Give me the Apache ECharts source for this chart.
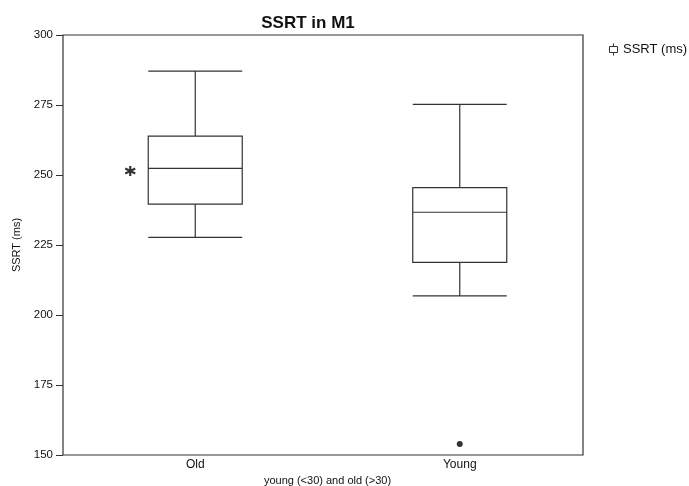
<!DOCTYPE html>
<html>
<head>
<meta charset="utf-8">
<script src="https://cdn.jsdelivr.net/npm/echarts@6/dist/echarts.min.js"></script>
<style>
  html, body { margin: 0; padding: 0; background: #fff; }
  #container { width: 689px; height: 486px; }
</style>
</head>
<body>
<div id="container"></div>
<script>
// values
var categories = ['Old', 'Young'];
var lowValues = [227.7, 206.8];
var q1Values = [239.6, 218.8];
var medianValues = [252.4, 236.7];
var q3Values = [263.9, 245.5];
var highValues = [287.1, 275.2];
var outliers = [['Young', 153.9]];
var extremes = [['Old', 251.4]];
var yTicks = { min: 150, max: 300, step: 25 };

var boxData = categories.map(function (c, i) {
    return [lowValues[i], q1Values[i], medianValues[i], q3Values[i], highValues[i]];
});

var font = 'Liberation Sans, Arial, Helvetica, sans-serif';
var asterisk = 'path://M0,-10 L0,10 M-8.66,-5 L8.66,5 M-8.66,5 L8.66,-5';

var dom = document.getElementById('container');
var chart = echarts.init(dom, null, { renderer: 'canvas' });

chart.setOption({
    animation: false,
    backgroundColor: '#fff',
    title: {
        text: 'SSRT in M1',
        left: 303, top: 10, textAlign: 'center',
        textStyle: { fontFamily: font, fontSize: 17, fontWeight: 'bold', color: '#111' }
    },
    legend: {
        data: ['SSRT (ms)'],
        left: 604, top: 38,
        itemWidth: 9, itemHeight: 12,
        icon: 'path://M5,0 L5,3 M1,3 L9,3 L9,9 L1,9 Z M5,9 L5,12',
        itemStyle: { color: '#fff', borderColor: '#333', borderWidth: 1 },
        textStyle: { fontFamily: font, fontSize: 13, color: '#111' }
    },
    grid: [
        // frame
        { left: 63, right: 106, top: 35, bottom: 31, outerBoundsMode: 'none', show: true, borderColor: '#333', borderWidth: 1.2, backgroundColor: 'transparent' },
        // plotting grid, shifted so the category centres land where the reference has them
        { left: 63, right: 97, top: 35, bottom: 31, outerBoundsMode: 'none' }
    ],
    xAxis: [
        { gridIndex: 0, type: 'value', show: false },
        {
            gridIndex: 1, type: 'category', data: categories,
            name: 'young (<30) and old (>30)', nameLocation: 'middle', nameGap: 9,
            nameTextStyle: { fontFamily: font, fontSize: 11, color: '#111' },
            axisLine: { show: false }, axisTick: { show: false }, splitLine: { show: false },
            axisLabel: { fontFamily: font, fontSize: 12, color: '#111', margin: 4 }
        }
    ],
    yAxis: [
        { gridIndex: 0, type: 'value', show: false },
        {
            gridIndex: 1, type: 'value',
            min: yTicks.min, max: yTicks.max, interval: yTicks.step,
            name: 'SSRT (ms)', nameLocation: 'middle', nameGap: 41,
            nameTextStyle: { fontFamily: font, fontSize: 11, color: '#111' },
            axisLine: { show: false },
            axisTick: { show: true, length: 7, lineStyle: { color: '#333', width: 1 } },
            splitLine: { show: false },
            axisLabel: { fontFamily: font, fontSize: 11.5, color: '#111', margin: 10 }
        }
    ],
    series: [
        {
            name: 'SSRT (ms)', type: 'boxplot',
            xAxisIndex: 1, yAxisIndex: 1,
            boxWidth: [94, 94],
            data: boxData,
            itemStyle: { color: '#fff', borderColor: '#333', borderWidth: 1.2 }
        },
        {
            name: 'outlier', type: 'scatter',
            xAxisIndex: 1, yAxisIndex: 1,
            data: outliers, symbol: 'circle', symbolSize: 6,
            itemStyle: { color: '#000' }
        },
        {
            name: 'extreme', type: 'scatter',
            xAxisIndex: 1, yAxisIndex: 1,
            data: extremes, symbol: asterisk, symbolSize: 10,
            symbolOffset: [-65, 0],
            itemStyle: { color: '#000', borderColor: '#000', borderWidth: 2.2 }
        }
    ]
});
</script>
</body>
</html>
